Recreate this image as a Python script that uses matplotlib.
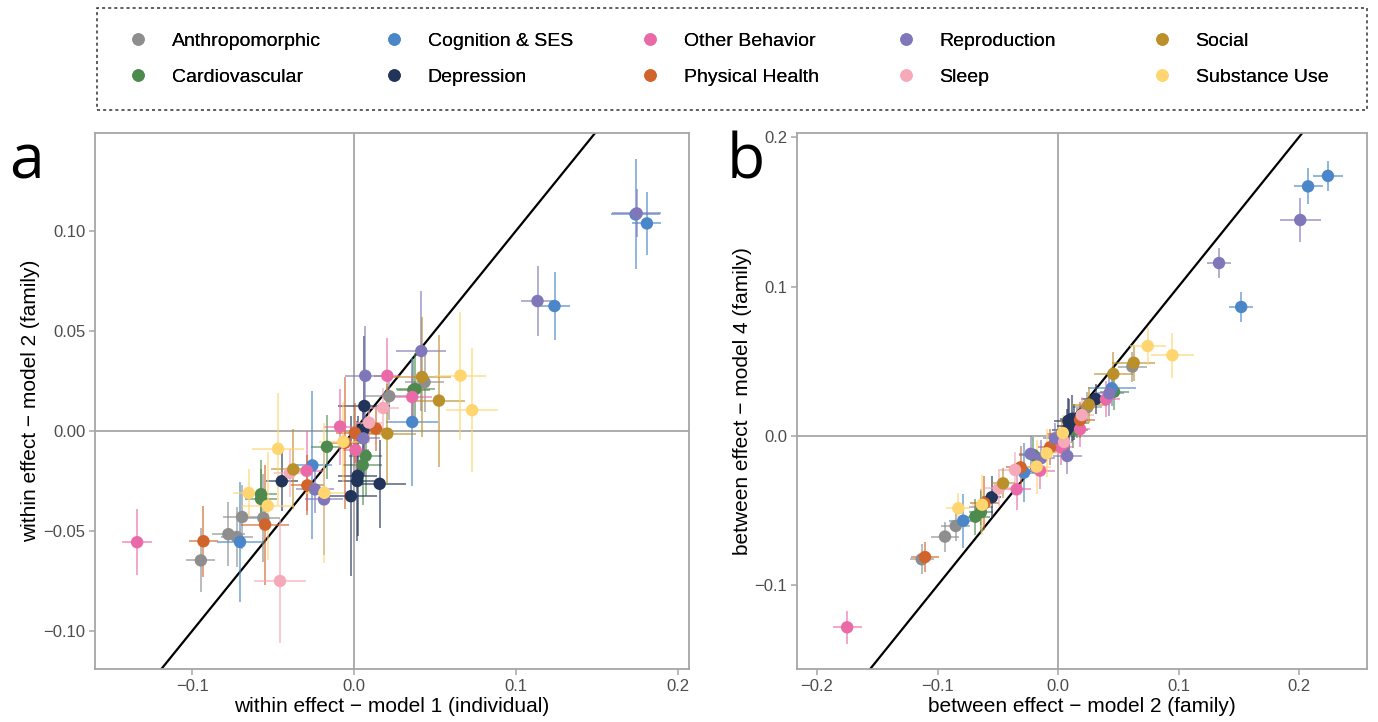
import matplotlib
matplotlib.use("Agg")
import matplotlib.pyplot as plt
from matplotlib.patches import Rectangle
from matplotlib.lines import Line2D

plt.rcParams['font.family'] = ['Liberation Sans', 'DejaVu Sans']

categories = ["Anthropomorphic", "Cardiovascular", "Cognition & SES", "Depression",
              "Other Behavior", "Physical Health", "Reproduction", "Sleep",
              "Social", "Substance Use"]
colors = ["#8e8e8e", "#4e8a4e", "#4a86c8", "#22345a", "#ea6aa8",
          "#d0642a", "#7f77ba", "#f6a9b8", "#bb8f2a", "#fed56f"]

# ---------------- Panel a: within effects (model 1 vs model 2) ----------------
a_x = {
    "Anthropomorphic": [0.0436, 0.0218, -0.0691, -0.056, -0.0776, -0.0724, -0.0946],
    "Cardiovascular": [0.038, 0.0367, -0.0167, 0.0072, 0.0054, -0.0574, -0.0574],
    "Cognition & SES": [0.174, 0.181, 0.1239, 0.036, -0.0257, -0.0704],
    "Depression": [0.0064, 0.0058, 0.0023, 0.002, 0.0159, -0.0019, -0.0446],
    "Other Behavior": [0.0206, 0.036, -0.0086, 0.001, -0.0292, -0.134],
    "Physical Health": [0.0136, 0.0006, -0.0056, -0.0288, -0.0549, -0.093],
    "Reproduction": [0.0416, 0.007, 0.0058, -0.0241, -0.0185, 0.1747, 0.1134],
    "Sleep": [0.018, 0.0093, -0.0395, -0.0457],
    "Social": [0.042, 0.0525, 0.0206, -0.0375],
    "Substance Use": [0.0658, 0.073, -0.0066, -0.0469, -0.0183, -0.065, -0.0533],
}
a_y = {
    "Anthropomorphic": [0.0244, 0.0174, -0.043, -0.0435, -0.0516, -0.053, -0.0647],
    "Cardiovascular": [0.021, 0.0205, -0.0079, -0.0124, -0.017, -0.0316, -0.034],
    "Cognition & SES": [0.1083, 0.1038, 0.0625, 0.0045, -0.0172, -0.0555],
    "Depression": [0.0125, 0.0005, -0.0224, -0.025, -0.0264, -0.0326, -0.0251],
    "Other Behavior": [0.0276, 0.017, 0.0022, -0.0095, -0.0199, -0.0556],
    "Physical Health": [0.0012, -0.001, -0.0059, -0.0272, -0.0468, -0.0551],
    "Reproduction": [0.040, 0.0276, -0.0037, -0.0292, -0.0342, 0.1088, 0.065],
    "Sleep": [0.0115, 0.0042, -0.0209, -0.075],
    "Social": [0.027, 0.0152, -0.0013, -0.0192],
    "Substance Use": [0.0277, 0.0104, -0.0054, -0.0089, -0.0309, -0.031, -0.0374],
}
a_xerr = {
    "Anthropomorphic": [0.012, 0.015, 0.012, 0.010, 0.010, 0.010, 0.009],
    "Cardiovascular": [0.012, 0.010, 0.010, 0.010, 0.012, 0.010, 0.010],
    "Cognition & SES": [0.015, 0.009, 0.0094, 0.016, 0.012, 0.014],
    "Depression": [0.016, 0.008, 0.012, 0.012, 0.016, 0.016, 0.010],
    "Other Behavior": [0.008, 0.012, 0.010, 0.008, 0.010, 0.0094],
    "Physical Health": [0.008, 0.012, 0.012, 0.010, 0.015, 0.009],
    "Reproduction": [0.0154, 0.0125, 0.010, 0.012, 0.012, 0.015, 0.010],
    "Sleep": [0.010, 0.008, 0.010, 0.016],
    "Social": [0.018, 0.016, 0.018, 0.014],
    "Substance Use": [0.016, 0.016, 0.015, 0.016, 0.012, 0.010, 0.016],
}
a_yerr = {
    "Anthropomorphic": [0.015, 0.012, 0.016, 0.022, 0.016, 0.015, 0.016],
    "Cardiovascular": [0.018, 0.015, 0.016, 0.020, 0.020, 0.017, 0.015],
    "Cognition & SES": [0.0275, 0.0156, 0.017, 0.032, 0.037, 0.030],
    "Depression": [0.035, 0.015, 0.030, 0.030, 0.022, 0.040, 0.015],
    "Other Behavior": [0.019, 0.012, 0.019, 0.012, 0.020, 0.0165],
    "Physical Health": [0.011, 0.015, 0.033, 0.015, 0.030, 0.0177],
    "Reproduction": [0.030, 0.025, 0.012, 0.012, 0.028, 0.012, 0.0177],
    "Sleep": [0.010, 0.010, 0.012, 0.031],
    "Social": [0.030, 0.033, 0.025, 0.020],
    "Substance Use": [0.032, 0.031, 0.020, 0.028, 0.035, 0.012, 0.027],
}

# ---------------- Panel b: between effects (model 2 vs model 4) ----------------
b_x = {
    "Anthropomorphic": [0.0617, 0.0243, -0.0642, -0.0849, -0.0938, -0.1131],
    "Cardiovascular": [0.0465, 0.0127, -0.0205, -0.0686, -0.064, 0.0155],
    "Cognition & SES": [0.224, 0.2075, 0.152, 0.0446, -0.0282, -0.0786],
    "Depression": [0.0313, 0.0086, 0.0113, 0.0072, -0.055, 0.0095, 0.0135],
    "Other Behavior": [-0.175, 0.0398, 0.0022, -0.0149, -0.0343, 0.0183],
    "Physical Health": [0.0183, -0.0066, -0.031, -0.0611, -0.1104, 0.003],
    "Reproduction": [0.201, 0.1336, 0.0426, -0.0025, 0.0077, -0.0141, -0.0227],
    "Sleep": [-0.0357, -0.049, 0.0197, 0.005],
    "Social": [0.0628, 0.0459, 0.0255, -0.0456],
    "Substance Use": [0.0949, 0.0744, -0.0827, -0.0177, -0.0094, -0.063, 0.004],
}
b_y = {
    "Anthropomorphic": [0.0464, 0.0192, -0.0477, -0.0602, -0.0673, -0.0825],
    "Cardiovascular": [0.0296, 0.004, -0.0127, -0.054, -0.051, 0.0085],
    "Cognition & SES": [0.174, 0.167, 0.0863, 0.0319, -0.0245, -0.0567],
    "Depression": [0.0247, 0.0102, 0.0114, 0.004, -0.041, 0.0065, 0.0095],
    "Other Behavior": [-0.128, 0.0245, -0.0076, -0.0232, -0.0357, 0.0045],
    "Physical Health": [0.0107, -0.0076, -0.021, -0.045, -0.081, 0.001],
    "Reproduction": [0.1445, 0.1157, 0.0285, -0.0016, -0.0134, -0.0149, -0.012],
    "Sleep": [-0.0227, -0.035, 0.014, -0.004],
    "Social": [0.049, 0.0415, 0.021, -0.0317],
    "Substance Use": [0.054, 0.0602, -0.0484, -0.0205, -0.0116, -0.046, 0.002],
}
b_xerr = {
    "Anthropomorphic": [0.012, 0.012, 0.010, 0.012, 0.012, 0.010],
    "Cardiovascular": [0.012, 0.012, 0.012, 0.012, 0.010, 0.010],
    "Cognition & SES": [0.0125, 0.012, 0.010, 0.020, 0.010, 0.012],
    "Depression": [0.012, 0.012, 0.010, 0.012, 0.008, 0.010, 0.010],
    "Other Behavior": [0.012, 0.012, 0.010, 0.012, 0.012, 0.008],
    "Physical Health": [0.012, 0.010, 0.012, 0.012, 0.012, 0.012],
    "Reproduction": [0.017, 0.010, 0.012, 0.010, 0.012, 0.012, 0.010],
    "Sleep": [0.014, 0.012, 0.010, 0.008],
    "Social": [0.018, 0.016, 0.015, 0.010],
    "Substance Use": [0.018, 0.015, 0.010, 0.012, 0.012, 0.008, 0.010],
}
b_yerr = {
    "Anthropomorphic": [0.010, 0.010, 0.012, 0.010, 0.010, 0.010],
    "Cardiovascular": [0.012, 0.012, 0.012, 0.012, 0.014, 0.010],
    "Cognition & SES": [0.010, 0.012, 0.010, 0.012, 0.020, 0.018],
    "Depression": [0.010, 0.015, 0.016, 0.014, 0.014, 0.018, 0.012],
    "Other Behavior": [0.011, 0.012, 0.012, 0.012, 0.014, 0.012],
    "Physical Health": [0.012, 0.012, 0.014, 0.018, 0.010, 0.010],
    "Reproduction": [0.015, 0.010, 0.015, 0.010, 0.012, 0.012, 0.012],
    "Sleep": [0.012, 0.012, 0.012, 0.010],
    "Social": [0.012, 0.015, 0.012, 0.010],
    "Substance Use": [0.015, 0.013, 0.010, 0.018, 0.016, 0.020, 0.012],
}

W, H = 1378, 722
fig = plt.figure(figsize=(W / 100, H / 100), dpi=100)

def fx(px):
    return px / W

def fy(py):
    return 1 - py / H

axA = fig.add_axes([fx(95), fy(669), fx(689) - fx(95), fy(133) - fy(669)])
axB = fig.add_axes([fx(797), fy(669), fx(1367) - fx(797), fy(133) - fy(669)])

def draw(ax, X, Y, XE, YE, xlim, ylim, xticks, yticks, xfmt, yfmt, xlabel, ylabel):
    ax.set_xlim(*xlim)
    ax.set_ylim(*ylim)
    ax.axhline(0, color="#a6a6a6", lw=1.3, zorder=1)
    ax.axvline(0, color="#a6a6a6", lw=1.3, zorder=1)
    lo = min(xlim[0], ylim[0]) - 1
    hi = max(xlim[1], ylim[1]) + 1
    ax.plot([lo, hi], [lo, hi], color="black", lw=1.6, zorder=2)
    for cat, col in zip(categories, colors):
        ax.errorbar(X[cat], Y[cat], xerr=XE[cat], yerr=YE[cat], fmt="none",
                    ecolor=col, elinewidth=1.2, alpha=0.7, capsize=0, zorder=3)
    for cat, col in zip(categories, colors):
        ax.scatter(X[cat], Y[cat], s=80, color=col, edgecolors="none", zorder=4)
    ax.set_xticks(xticks)
    ax.set_yticks(yticks)
    ax.set_xticklabels([xfmt.format(v).replace("-", "\u2212") for v in xticks])
    ax.set_yticklabels([yfmt.format(v).replace("-", "\u2212") for v in yticks])
    ax.tick_params(axis="both", colors="#a6a6a6", labelcolor="#4d4d4d",
                   labelsize=12, length=4, width=1.1, pad=3)
    for sp in ax.spines.values():
        sp.set_color("#a6a6a6")
        sp.set_linewidth(1.3)
    ax.set_xlabel(xlabel, fontsize=15, labelpad=2)
    ax.set_ylabel(ylabel, fontsize=15, labelpad=2)

draw(axA, a_x, a_y, a_xerr, a_yerr, (-0.160, 0.207), (-0.119, 0.149),
     [-0.1, 0.0, 0.1, 0.2], [-0.10, -0.05, 0.00, 0.05, 0.10],
     "{:.1f}", "{:.2f}",
     "within effect \u2212 model 1 (individual)", "within effect \u2212 model 2 (family)")
draw(axB, b_x, b_y, b_xerr, b_yerr, (-0.2166, 0.2564), (-0.1559, 0.2027),
     [-0.2, -0.1, 0.0, 0.1, 0.2], [-0.1, 0.0, 0.1, 0.2],
     "{:.1f}", "{:.1f}",
     "between effect \u2212 model 2 (family)", "between effect \u2212 model 4 (family)")

fig.text(fx(9), fy(162), "a", fontsize=45, family=["Open Sans", "DejaVu Sans"],
         va="center", ha="left")
fig.text(fx(727), fy(162), "b", fontsize=45, family=["Open Sans", "DejaVu Sans"],
         va="center", ha="left")

# legend box
fig.patches.append(Rectangle((fx(97), fy(110)), fx(1367) - fx(97), fy(8) - fy(110),
                             transform=fig.transFigure, fill=False,
                             edgecolor="#333333", lw=1.1, linestyle=(0, (2, 2))))
col_x = [142, 398, 654, 910, 1166]
for i in range(5):
    cats = categories[2 * i: 2 * i + 2]
    cols = colors[2 * i: 2 * i + 2]
    handles = [Line2D([], [], marker="o", linestyle="none", markersize=9,
                      markerfacecolor=c, markeredgecolor="none") for c in cols]
    leg = fig.legend(handles, cats, loc="upper left",
                     bbox_to_anchor=(fx(col_x[i] - 8) - 0.0045, fy(32)),
                     frameon=False, fontsize=14, handlelength=1.0,
                     handletextpad=1.25, labelspacing=0.98, borderpad=0,
                     borderaxespad=0)
    fig.add_artist(leg)

fig.savefig("out.png", dpi=100)
